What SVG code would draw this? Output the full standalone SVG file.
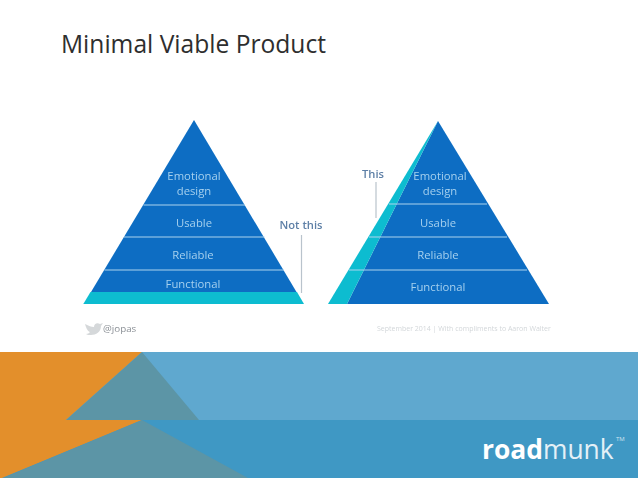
<svg xmlns="http://www.w3.org/2000/svg" width="638" height="479" viewBox="0 0 638 479">
<defs>
<style>
.blue{fill:#0c6dc3}
.cyan{fill:#0fbcd0}
.sep{stroke:#a9d4ee;stroke-width:1.2;fill:none}
.lead{stroke:#b9c3cc;stroke-width:1.2;fill:none}
.lab{font-family:"Open Sans","Liberation Sans",sans-serif;font-size:11.300px;fill:#a6d0ee;text-anchor:middle}
.call{font-family:"Open Sans","Liberation Sans",sans-serif;font-size:11.200px;font-weight:600;fill:#5d7fa6;text-anchor:middle}
.small{font-family:"Open Sans","Liberation Sans",sans-serif;font-size:7px;fill:#d3d7da}
</style>
<filter id="soft" x="-5%" y="-5%" width="110%" height="110%"><feGaussianBlur stdDeviation="0.45"/></filter>
</defs>
<rect width="638" height="479" fill="#ffffff"/>
<text x="61" y="53" font-family="'Open Sans','Liberation Sans',sans-serif" font-size="24.600px" fill="#2e2e2e">Minimal Viable Product</text>

<g id="pyramid-not-this" filter="url(#soft)">
<polygon class="blue" points="194,120 296.500,292 91,292"/>
<polygon class="cyan" points="90.500,292 297,292 304,304 83.300,304"/>
<path class="sep" d="M143.500,205H245M124,237H264.500M104.500,270H284"/>
<text class="lab" x="194" y="180">Emotional</text>
<text class="lab" x="194" y="195">design</text>
<text class="lab" x="194" y="227">Usable</text>
<text class="lab" x="193" y="259">Reliable</text>
<text class="lab" x="193" y="288">Functional</text>
</g>
<g id="label-not-this" filter="url(#soft)">
<text class="call" x="301" y="229">Not this</text>
<path class="lead" d="M301.500,235V293"/>
</g>
<g id="pyramid-this" filter="url(#soft)">
<polygon class="blue" points="438,121 549,304 347,304"/>
<polygon class="cyan" points="438,121 347,304 328,304"/>
<path class="sep" d="M389,204H487M369,237H507M349,270H527"/>
<text class="lab" x="440" y="180">Emotional</text>
<text class="lab" x="440" y="195">design</text>
<text class="lab" x="438" y="227">Usable</text>
<text class="lab" x="438" y="259">Reliable</text>
<text class="lab" x="438" y="291">Functional</text>
</g>
<g id="label-this" filter="url(#soft)">
<text class="call" x="373" y="178">This</text>
<path class="lead" d="M376,182V218"/>
</g>
<g id="footer-notes" filter="url(#soft)">
<path d="M85,324c4,2 6,3 9,3c0,-3 3,-5 6,-3l3,-1l-2,3c0,6 -5,9 -10,9c-2,0 -4,0 -5,-1c2,0 3,-1 4,-2c-3,-1 -4,-5 -5,-8z" fill="#d5d8da"/>
<text x="103" y="332" font-family="'Open Sans','Liberation Sans',sans-serif" font-size="9.800px" fill="#8b9096">@jopas</text>
<text class="small" x="377" y="331">September 2014  |  With compliments to Aaron Walter</text>
</g>

<g id="banner">
<rect x="0" y="352" width="638" height="68" fill="#5fa8cf"/>
<rect x="0" y="420" width="638" height="58" fill="#3f98c4"/>
<polygon points="0,352 142,352 66,420 142,420 2,478 0,478" fill="#e38f2b"/>
<polygon points="142,352 199,420 66,420" fill="#5c95a6"/>
<polygon points="142,420 248,478 3,478" fill="#5c95a6"/>
<text x="482" y="459" font-family="'Open Sans','Liberation Sans',sans-serif" font-size="26.400px" fill="#ffffff"><tspan font-weight="700">road</tspan><tspan font-weight="400" fill="#e4f0f7">munk</tspan></text>
<text x="616" y="441" font-family="'Open Sans','Liberation Sans',sans-serif" font-size="6px" fill="#cfe3ef">TM</text>
</g>
</svg>
